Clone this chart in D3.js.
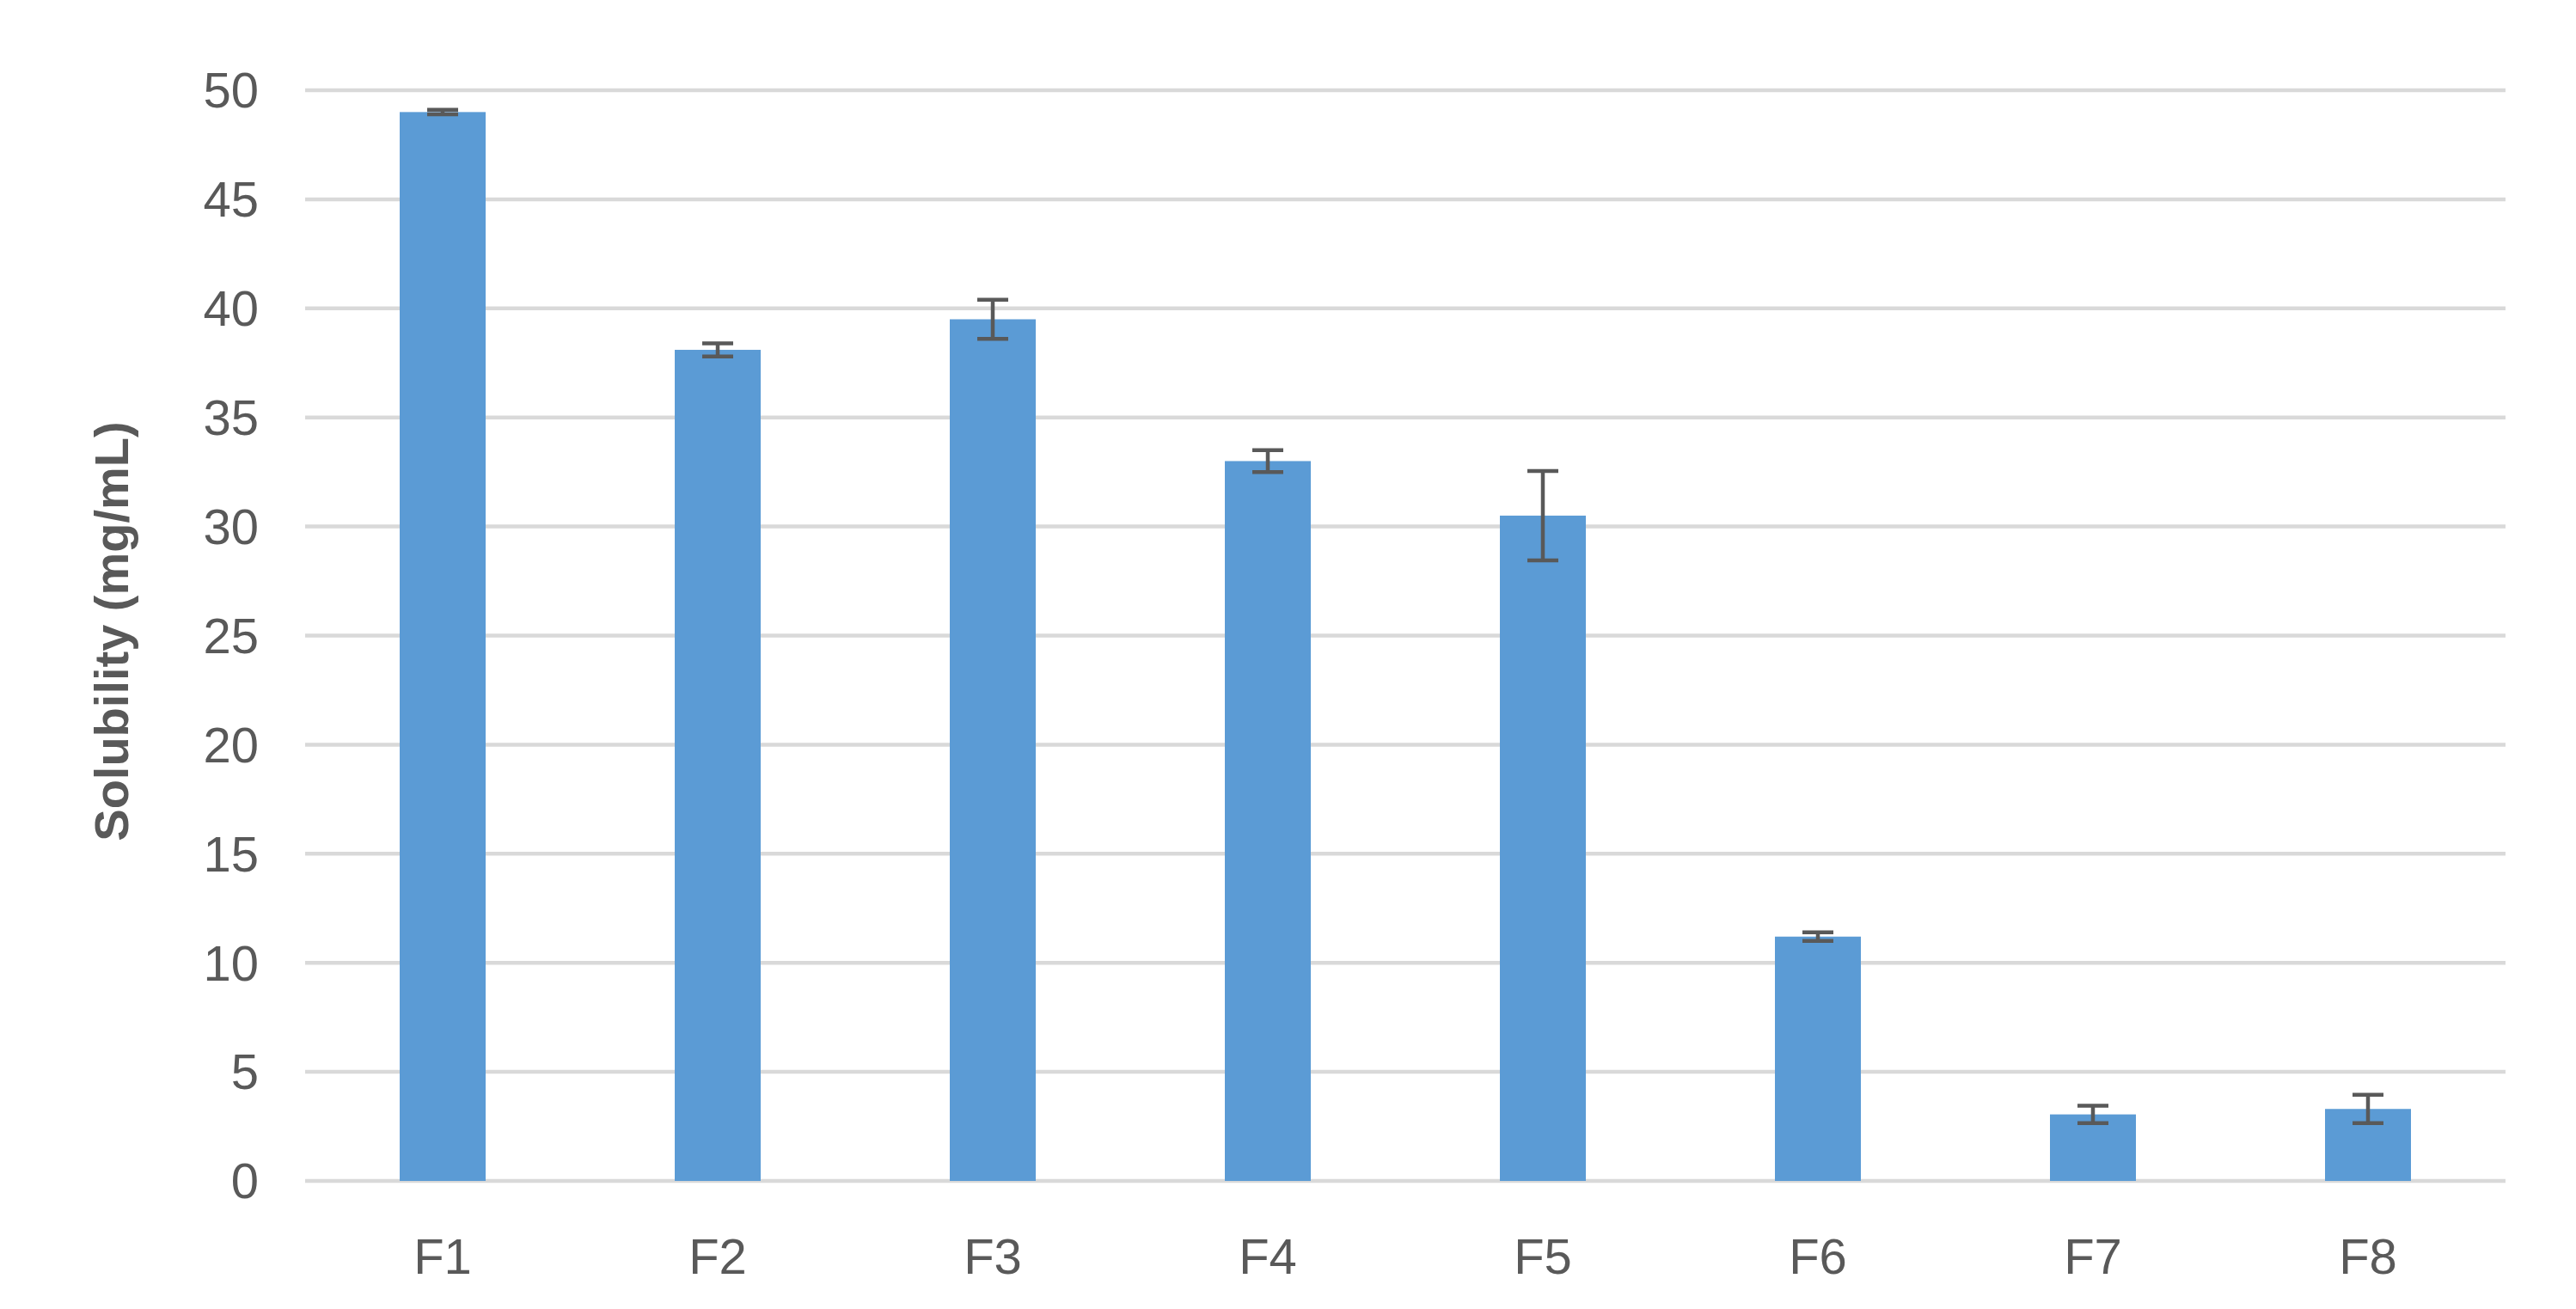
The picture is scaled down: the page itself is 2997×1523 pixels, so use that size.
<!DOCTYPE html>
<html>
<head>
<meta charset="utf-8">
<script src="https://cdn.jsdelivr.net/npm/d3@7"></script>
<style>
  body { margin: 0; background: #fff; }
  text { font-family: "Liberation Sans", Arial, sans-serif; }
</style>
</head>
<body>
<div id="chart"></div>
<script>
var categories = ['F1', 'F2', 'F3', 'F4', 'F5', 'F6', 'F7', 'F8'];
var values = [49.0, 38.1, 39.5, 33.0, 30.5, 11.2, 3.05, 3.3];
var errors = [0.1, 0.3, 0.9, 0.5, 2.05, 0.2, 0.4, 0.65];
var yTicks = [0, 5, 10, 15, 20, 25, 30, 35, 40, 45, 50];

var W = 2997, H = 1523;
var margin = { top: 105, right: 82, bottom: 149, left: 355 },
  width = W - margin.left - margin.right,
  height = H - margin.top - margin.bottom;

var svg = d3.select("#chart")
  .append("svg")
  .attr("width", W)
  .attr("height", H)
  .append("g")
  .attr("transform", "translate(" + margin.left + "," + margin.top + ")");

var x = d3.scaleBand().domain(categories).range([0, width]).paddingInner(0.6875).paddingOuter(0.34375);
var y = d3.scaleLinear().domain([0, 50]).range([height, 0]);

// gridlines
svg.selectAll(".grid").data(yTicks).enter().append("line")
  .attr("x1", 0).attr("x2", width)
  .attr("y1", function (d) { return y(d); })
  .attr("y2", function (d) { return y(d); })
  .attr("stroke", "#d9d9d9").attr("stroke-width", 4.5);

// y tick labels
svg.selectAll(".ytick").data(yTicks).enter().append("text")
  .attr("x", -54)
  .attr("y", function (d) { return y(d); })
  .attr("dy", "0.35em")
  .attr("text-anchor", "end")
  .attr("font-size", 58)
  .attr("fill", "#595959")
  .text(function (d) { return d; });

// bars
svg.selectAll(".bar").data(values).enter().append("rect")
  .attr("x", function (d, i) { return x(categories[i]); })
  .attr("y", function (d) { return y(d); })
  .attr("width", x.bandwidth())
  .attr("height", function (d) { return y(0) - y(d); })
  .attr("fill", "#5b9bd5");

// error bars
var cap = 18;
values.forEach(function (v, i) {
  var cx = x(categories[i]) + x.bandwidth() / 2;
  var g = svg.append("g").attr("stroke", "#595959").attr("stroke-width", 4.5);
  g.append("line").attr("x1", cx).attr("x2", cx).attr("y1", y(v - errors[i])).attr("y2", y(v + errors[i]));
  g.append("line").attr("x1", cx - cap).attr("x2", cx + cap).attr("y1", y(v - errors[i])).attr("y2", y(v - errors[i]));
  g.append("line").attr("x1", cx - cap).attr("x2", cx + cap).attr("y1", y(v + errors[i])).attr("y2", y(v + errors[i]));
});

// x labels
svg.selectAll(".xlab").data(categories).enter().append("text")
  .attr("x", function (d) { return x(d) + x.bandwidth() / 2; })
  .attr("y", height + 88)
  .attr("dy", "0.35em")
  .attr("text-anchor", "middle")
  .attr("font-size", 58)
  .attr("fill", "#595959")
  .text(function (d) { return d; });

// y axis title
svg.append("text")
  .attr("transform", "translate(" + (129 - margin.left) + "," + (height / 2 - 5) + ") rotate(-90)")
  .attr("dy", "0.35em")
  .attr("text-anchor", "middle")
  .attr("font-size", 56)
  .attr("font-weight", "bold")
  .attr("fill", "#595959")
  .text("Solubility (mg/mL)");
</script>
</body>
</html>
